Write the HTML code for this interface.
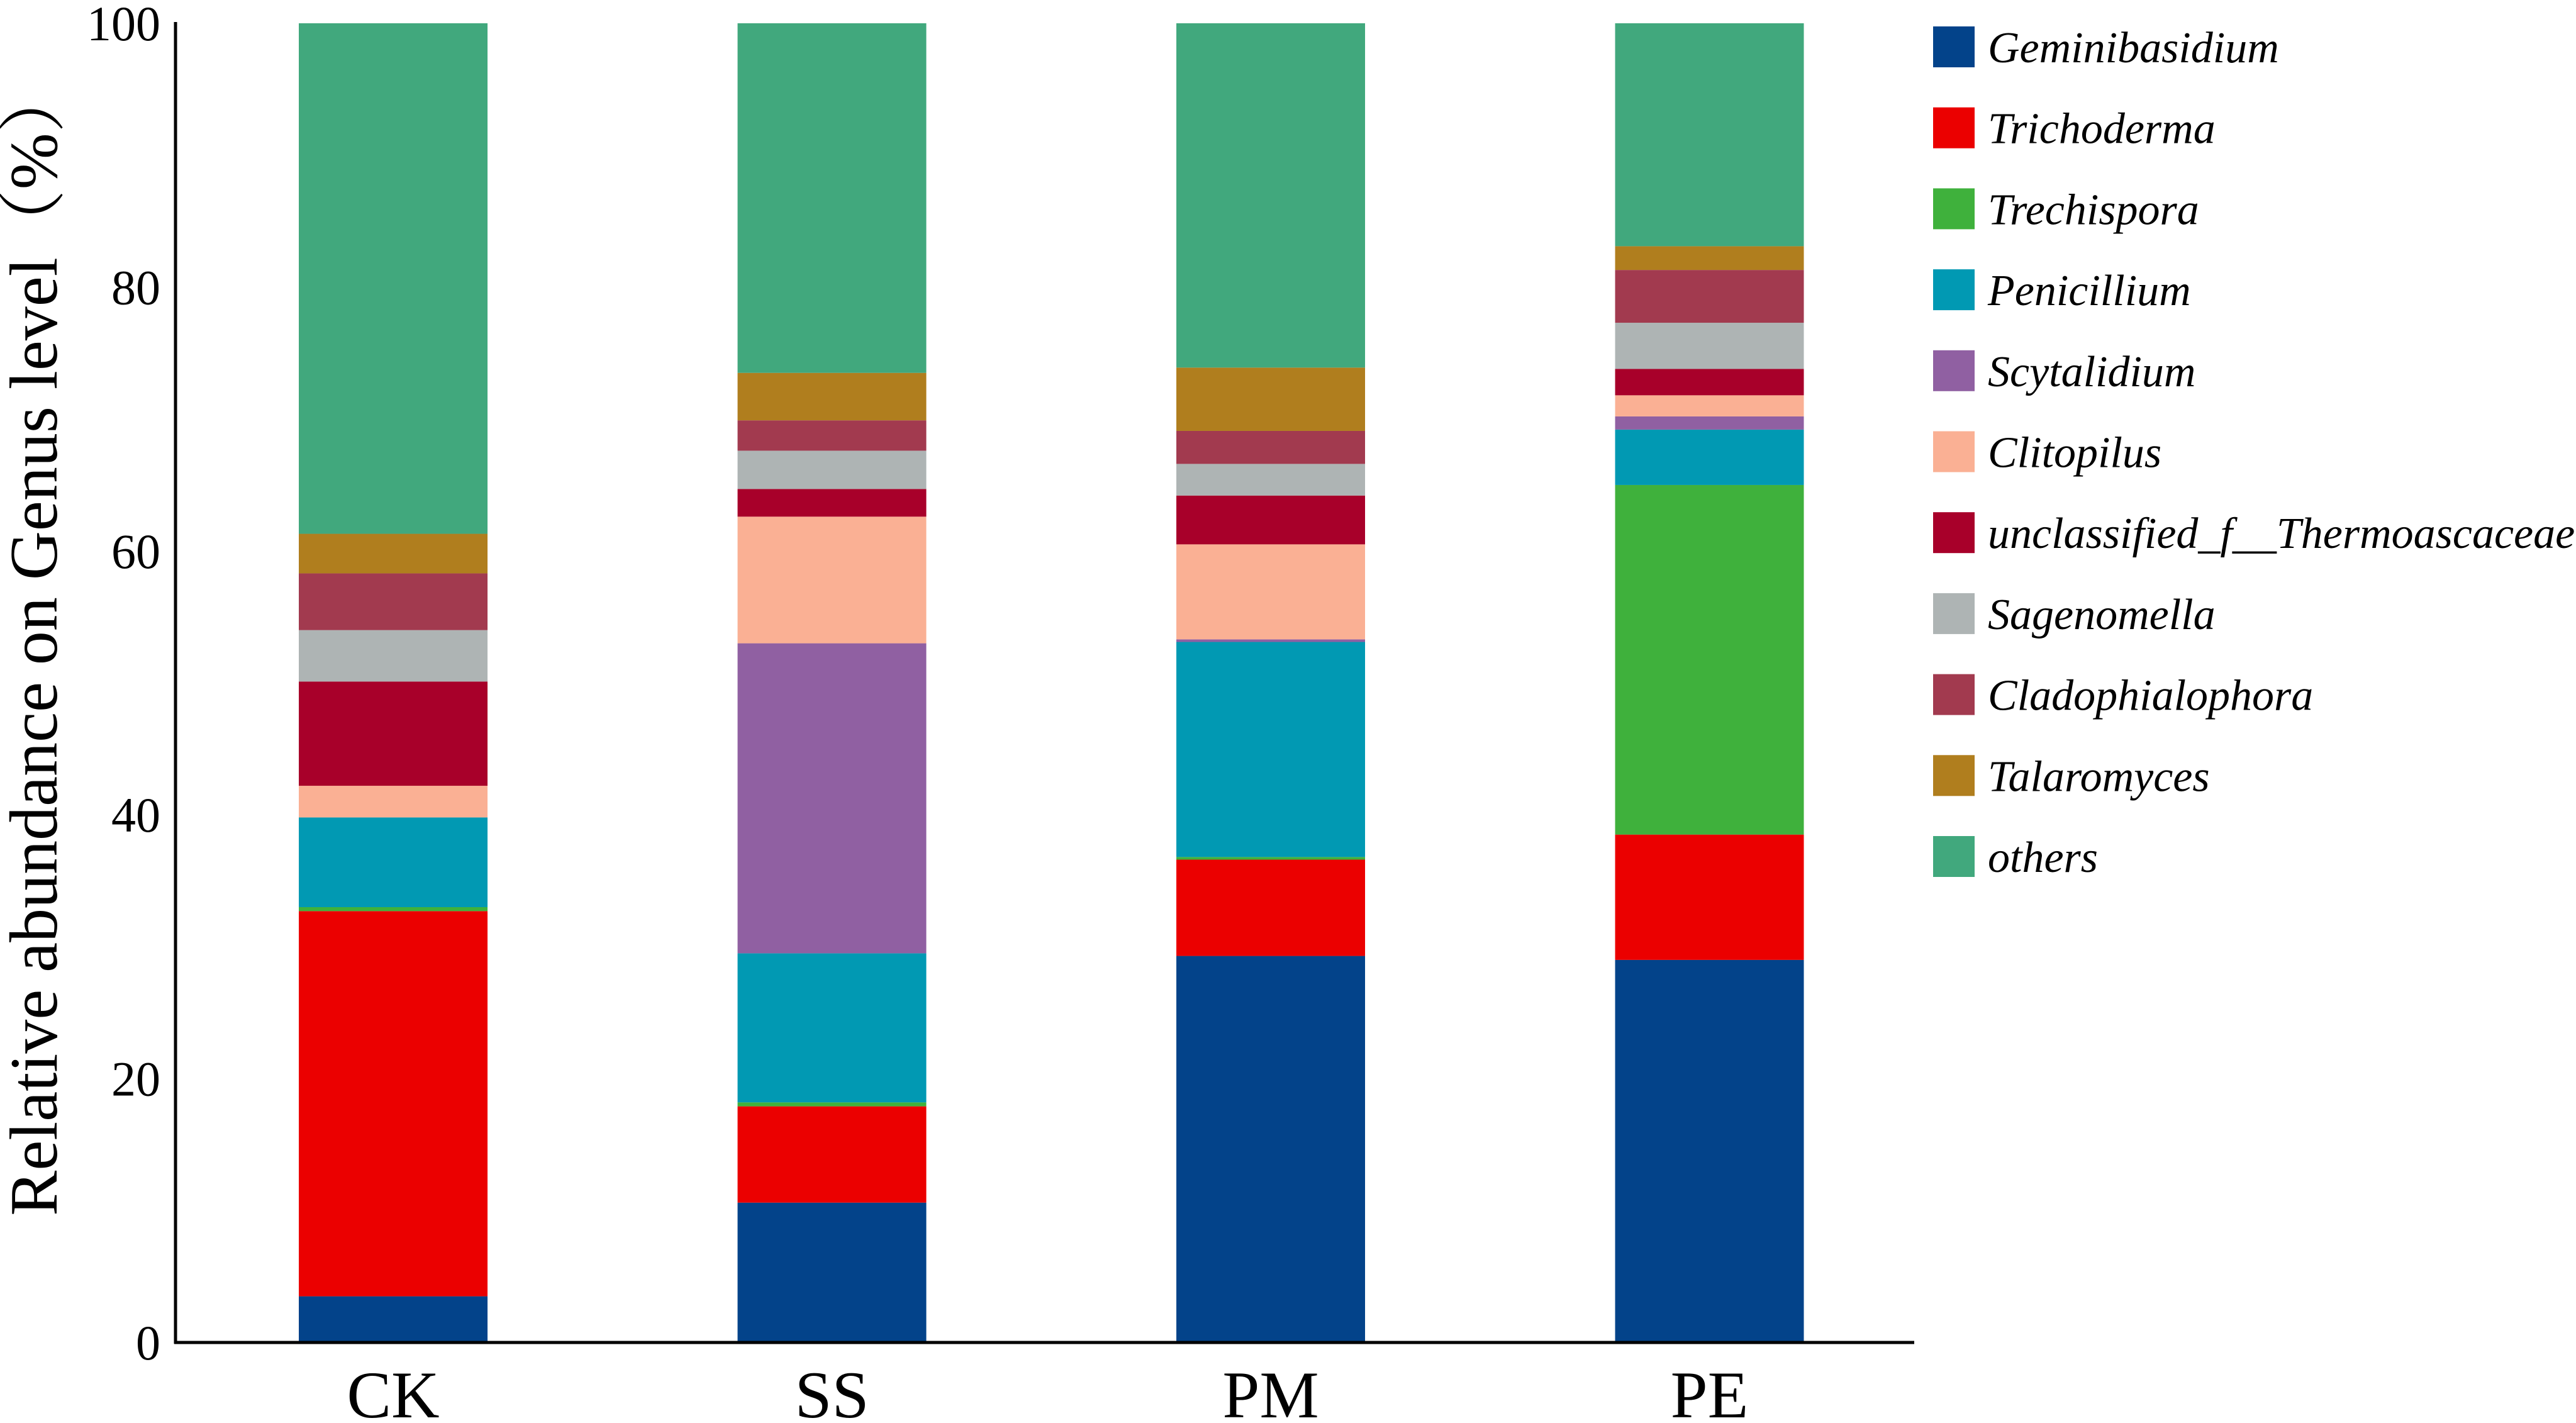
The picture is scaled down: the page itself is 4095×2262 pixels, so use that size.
<!DOCTYPE html>
<html><head><meta charset="utf-8"><style>
html,body{margin:0;padding:0;background:#fff;}
svg{display:block;}
text{font-family:"Liberation Serif","Times New Roman","Noto Serif CJK SC",serif;}
</style></head><body>
<svg id="chart" width="4095" height="2262" viewBox="0 0 4095 2262" xmlns="http://www.w3.org/2000/svg" font-family="Liberation Serif, Times New Roman, serif">
<g id="bars"></g>
<g id="axes"></g>
<g id="legend"></g>
<text transform="translate(90,1018) rotate(-90)" text-anchor="middle" font-size="108" font-family="Liberation Serif, Noto Serif CJK SC, serif">Relative abundance on Genus level（%）</text>
</svg>
<script>
const categories = ["CK","SS","PM","PE"];
const genera = ["Geminibasidium","Trichoderma","Trechispora","Penicillium","Scytalidium","Clitopilus","unclassified_f__Thermoascaceae","Sagenomella","Cladophialophora","Talaromyces","others"];
const colors = ["#03438A","#EB0000","#3FB13C","#0199B3","#9060A2","#FAB094","#A8002A","#AEB4B4","#A23A4F","#B07E1E","#41A87D"];
const valsCK = [3.5,29.2,0.3,6.8,0,2.4,7.9,3.9,4.3,3.0,38.7];
const valsSS = [10.6,7.3,0.3,11.3,23.5,9.6,2.1,2.9,2.3,3.6,26.5];
const valsPM = [29.3,7.3,0.2,16.3,0.2,7.2,3.7,2.4,2.5,4.8,26.1];
const valsPE = [29.0,9.5,26.5,4.2,1.0,1.6,2.0,3.5,4.0,1.8,16.9];
const yTicks = [0,20,40,60,80,100];
const series = [valsCK,valsSS,valsPM,valsPE];

const NS="http://www.w3.org/2000/svg";
const FF="Liberation Serif, Times New Roman, serif";
const x0=279, y0=2134, yTop=37, firstCenter=625, step=697.5, barW=300;
const yScale=v=>y0-(y0-yTop)*v/100;
const xCenter=i=>firstCenter+i*step;
function mk(tag,attrs,parent){const e=document.createElementNS(NS,tag);for(const k in attrs)e.setAttribute(k,attrs[k]);parent.appendChild(e);return e;}
const bars=document.getElementById('bars');
series.forEach((vals,i)=>{
  let cum=0;
  vals.forEach((v,j)=>{
    if(v<=0){return;}
    const r=mk('rect',{x:xCenter(i)-barW/2,y:yScale(cum+v),width:barW,height:yScale(cum)-yScale(cum+v),fill:colors[j]},bars);
    
    
    cum+=v;
  });
});
const axes=document.getElementById('axes');
const ya=mk('line',{x1:x0,y1:yTop-2,x2:x0,y2:y0+2,stroke:'#000','stroke-width':5},axes);


const xa=mk('line',{x1:x0-2,y1:y0,x2:3043,y2:y0,stroke:'#000','stroke-width':5},axes);


yTicks.forEach(t=>{
  const tx=mk('text',{x:255,y:yScale(t)+27,'text-anchor':'end','font-size':78,'font-family':FF},axes);
  tx.textContent=t;
  
  
});
categories.forEach((c,i)=>{
  const tx=mk('text',{x:xCenter(i),y:2253,'text-anchor':'middle','font-size':106,'font-family':FF},axes);
  tx.textContent=c;
  
  
});
const legend=document.getElementById('legend');
genera.forEach((g,j)=>{
  const cy=74+j*128.7;
  const gr=mk('g',{},legend);
  
  
  mk('rect',{x:3073,y:cy-32,width:66,height:65,fill:colors[j]},gr);
  const tx=mk('text',{x:3160,y:cy+25,'font-size':70,'font-style':'italic','font-family':FF},gr);
  tx.textContent=g;
});
</script>
</body></html>
